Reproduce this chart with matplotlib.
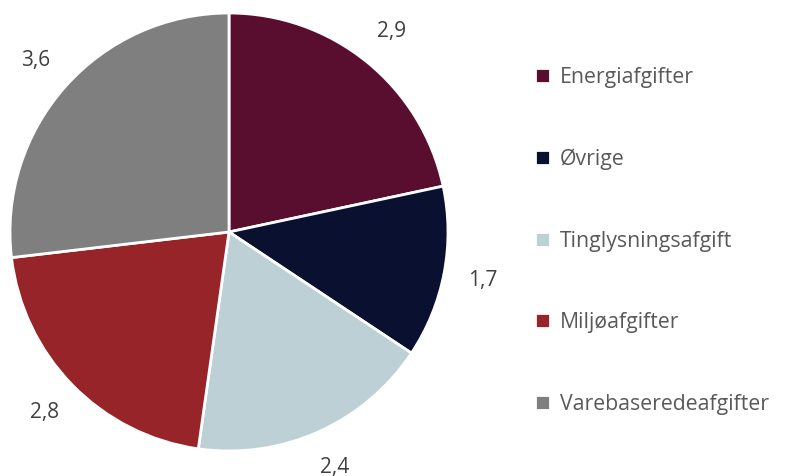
import matplotlib.pyplot as plt

kategorier = ["Energiafgifter", "Øvrige", "Tinglysningsafgift", "Miljøafgifter", "Varebaseredeafgifter"]
vaerdier = [2.9, 1.7, 2.4, 2.8, 3.6]
etiketter = ["2,9", "1,7", "2,4", "2,8", "3,6"]
farver = ["#5a0e2f", "#0a1130", "#bdd0d6", "#962429", "#7f7f7f"]

plt.rcParams['font.family'] = ['Open Sans', 'DejaVu Sans']

fig = plt.figure(figsize=(7.87, 4.76), dpi=100)
ax = fig.add_axes([10 / 787, 25 / 476, 438 / 787, 438 / 476])

kiler, tekster = ax.pie(vaerdier, labels=etiketter, colors=farver, startangle=90,
                        counterclock=False, labeldistance=1.18, radius=1.0,
                        wedgeprops=dict(edgecolor="white", linewidth=2),
                        textprops=dict(color="#404040", fontsize=15))
for t in tekster:
    t.set_horizontalalignment("center")
    t.set_verticalalignment("center")
ax.set_xlim(-1, 1)
ax.set_ylim(-1, 1)
ax.set_aspect("equal")

leg = fig.legend(kiler, kategorier, loc="upper left", bbox_to_anchor=(516 / 787, 1 - 48 / 476),
                 frameon=False, handlelength=0.7, handleheight=0.7, handletextpad=0.45,
                 labelspacing=2.85, fontsize=15.3)
for t in leg.get_texts():
    t.set_color("#595959")

fig.savefig("out.png", dpi=100)
